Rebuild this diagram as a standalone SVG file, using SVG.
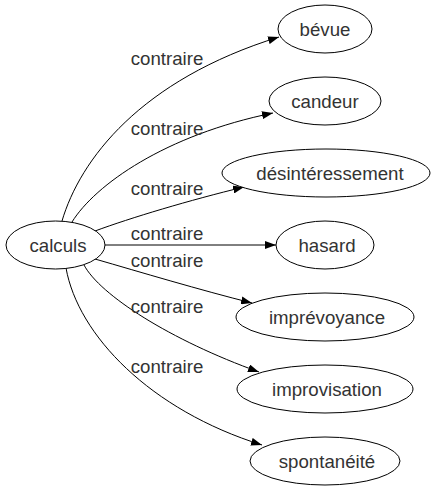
<svg xmlns="http://www.w3.org/2000/svg" width="435" height="491" viewBox="0 0 435 491">
<defs>
<style>
.n ellipse{fill:#fff;stroke:#000;stroke-width:1}
text{font-family:"Liberation Sans",Arial,sans-serif;font-size:18.67px;fill:#333;text-anchor:middle}
.e path{fill:none;stroke:#000;stroke-width:1;marker-end:url(#ah)}
</style>
<marker id="ah" markerUnits="userSpaceOnUse" markerWidth="11" markerHeight="8" refX="11" refY="4" orient="auto"><path d="M0,0 L11,4 L0,8 z" fill="#000"/></marker>
</defs>
<rect width="435" height="491" fill="#fff"/>
<g id="edges" class="e">
<path d="M62,221 C80,160 140,80 279,37"/>
<path d="M72,222 C95,185 165,135 273,113"/>
<path d="M95,231 C130,218 190,200 244,187"/>
<path d="M105,245 L276,245"/>
<path d="M95,259 C140,272 200,290 252,303"/>
<path d="M84,265 C100,295 170,340 259,372"/>
<path d="M66,268 C78,335 150,410 262,445"/>
</g>
<g id="labels">
<text x="167" y="65">contraire</text>
<text x="167" y="135">contraire</text>
<text x="167" y="195">contraire</text>
<text x="167" y="240">contraire</text>
<text x="167" y="267">contraire</text>
<text x="167" y="313">contraire</text>
<text x="167" y="373">contraire</text>
</g>
<g id="calculs" class="n"><ellipse cx="55.5" cy="245" rx="49.5" ry="24"/><text x="58" y="251.5">calculs</text></g>
<g id="bevue" class="n"><ellipse cx="325" cy="29" rx="47" ry="24"/><text x="325" y="35.5">bévue</text></g>
<g id="candeur" class="n"><ellipse cx="325" cy="101" rx="56" ry="24"/><text x="325" y="107.5">candeur</text></g>
<g id="desinteressement" class="n"><ellipse cx="326" cy="173" rx="104" ry="24"/><text x="330" y="179.5">désintéressement</text></g>
<g id="hasard" class="n"><ellipse cx="325" cy="245" rx="49" ry="24"/><text x="327" y="251.5">hasard</text></g>
<g id="imprevoyance" class="n"><ellipse cx="325" cy="317" rx="89" ry="24"/><text x="327" y="323.5">imprévoyance</text></g>
<g id="improvisation" class="n"><ellipse cx="325" cy="389" rx="88" ry="24"/><text x="327" y="395.5">improvisation</text></g>
<g id="spontaneite" class="n"><ellipse cx="325" cy="461" rx="75" ry="24"/><text x="327" y="467.5">spontanéité</text></g>
</svg>
